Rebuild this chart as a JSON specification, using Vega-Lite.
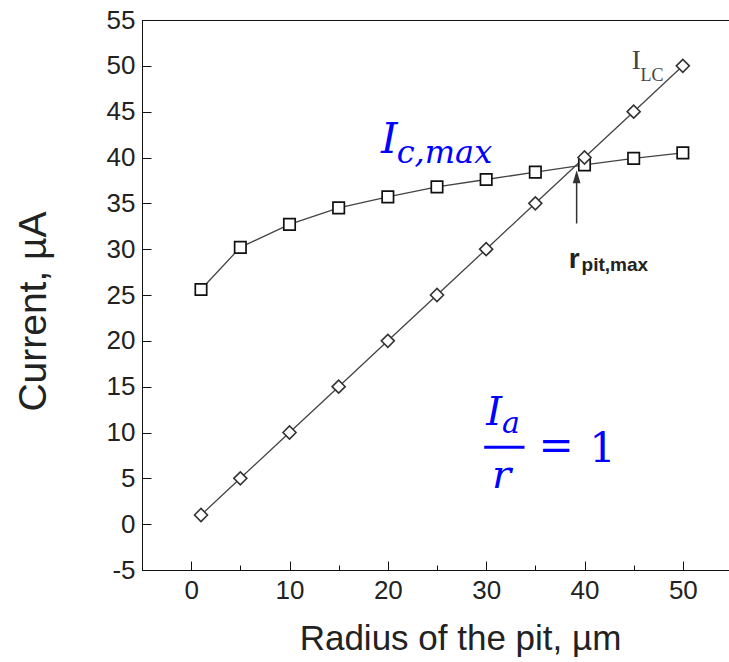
{
  "$schema": "https://vega.github.io/schema/vega-lite/v6.json",
  "width": 590,
  "height": 550,
  "autosize": "none",
  "padding": {"left": 142, "top": 20, "right": 0, "bottom": 92},
  "background": "white",
  "config": {
    "view": {"stroke": "#111", "strokeWidth": 1},
    "font": "Liberation Sans"
  },
  "datasets": {
    "series": [
      {"x": 1, "y": 1, "s": "ILC"},
      {"x": 5, "y": 5, "s": "ILC"},
      {"x": 10, "y": 10, "s": "ILC"},
      {"x": 15, "y": 15, "s": "ILC"},
      {"x": 20, "y": 20, "s": "ILC"},
      {"x": 25, "y": 25, "s": "ILC"},
      {"x": 30, "y": 30, "s": "ILC"},
      {"x": 35, "y": 35, "s": "ILC"},
      {"x": 40, "y": 40, "s": "ILC"},
      {"x": 45, "y": 45, "s": "ILC"},
      {"x": 50, "y": 50, "s": "ILC"},
      {"x": 1, "y": 25.6, "s": "Ic"},
      {"x": 5, "y": 30.2, "s": "Ic"},
      {"x": 10, "y": 32.7, "s": "Ic"},
      {"x": 15, "y": 34.5, "s": "Ic"},
      {"x": 20, "y": 35.7, "s": "Ic"},
      {"x": 25, "y": 36.8, "s": "Ic"},
      {"x": 30, "y": 37.6, "s": "Ic"},
      {"x": 35, "y": 38.4, "s": "Ic"},
      {"x": 40, "y": 39.2, "s": "Ic"},
      {"x": 45, "y": 39.9, "s": "Ic"},
      {"x": 50, "y": 40.5, "s": "Ic"}
    ],
    "notes": [
      {"x": 44.8, "y": 49.7, "t": "I", "k": "lc_main"},
      {"x": 45.7, "y": 48.4, "t": "LC", "k": "lc_sub"},
      {"x": 19.3, "y": 40.5, "t": "I", "k": "blue_big"},
      {"x": 20.9, "y": 39.4, "t": "c,max", "k": "blue_sub"},
      {"x": 30.0, "y": 10.8, "t": "I", "k": "blue_main"},
      {"x": 31.6, "y": 9.9, "t": "a", "k": "blue_asub"},
      {"x": 30.6, "y": 3.9, "t": "r", "k": "blue_main"},
      {"x": 40.5, "y": 6.8, "t": "1", "k": "blue_up"},
      {"x": 37.1, "y": 8.4, "t": "=", "k": "blue_eq"},
      {"x": 38.4, "y": 28.0, "t": "r", "k": "rp_main"},
      {"x": 39.7, "y": 27.6, "t": "pit,max", "k": "rp_sub"}
    ]
  },
  "layer": [
    {
      "data": {"name": "series"},
      "mark": {"type": "line", "color": "#444", "strokeWidth": 1.3},
      "encoding": {
        "x": {
          "field": "x", "type": "quantitative",
          "scale": {"domain": [-5, 55], "nice": false, "zero": false},
          "axis": {
            "title": "Radius of the pit, µm",
            "values": [0, 5, 10, 15, 20, 25, 30, 35, 40, 45, 50],
            "labelExpr": "datum.value % 10 === 0 ? datum.label : ''",
            "grid": false,
            "domainColor": "#111",
            "tickColor": "#111",
            "tickSize": -9,
            "tickDash": {"condition": {"test": "datum.value % 10 !== 0", "value": [5, 30]}, "value": []},
            "labelFontSize": 26,
            "labelColor": "#222",
            "labelPadding": 16,
            "labelFlush": false,
            "labelOverlap": false,
            "titleFontSize": 35,
            "titleFontWeight": "normal",
            "titleColor": "#222",
            "titlePadding": 18,
            "titleX": 318,
            "titleAlign": "center"
          }
        },
        "y": {
          "field": "y", "type": "quantitative",
          "scale": {"domain": [-5, 55], "nice": false, "zero": false},
          "axis": {
            "title": "Current, µA",
            "values": [-5, -2.5, 0, 2.5, 5, 7.5, 10, 12.5, 15, 17.5, 20, 22.5, 25, 27.5, 30, 32.5, 35, 37.5, 40, 42.5, 45, 47.5, 50, 52.5, 55],
            "labelExpr": "datum.value % 5 === 0 ? (datum.value < 0 ? '-' : '') + abs(datum.value) : ''",
            "grid": false,
            "domainColor": "#111",
            "tickColor": "#111",
            "tickSize": -9,
            "tickDash": {"condition": {"test": "datum.value % 5 !== 0", "value": [5, 30]}, "value": []},
            "labelFontSize": 26,
            "labelColor": "#222",
            "labelPadding": 16,
            "labelFlush": false,
            "labelOverlap": false,
            "titleFontSize": 39,
            "titleFontWeight": "normal",
            "titleColor": "#222",
            "titlePadding": 53,
            "titleY": 291
          }
        },
        "detail": {"field": "s"}
      }
    },
    {
      "data": {"name": "series"},
      "transform": [{"filter": "datum.s === 'Ic'"}],
      "mark": {"type": "point", "shape": "square", "filled": true, "fill": "white", "stroke": "#111", "strokeWidth": 1.7, "size": 130, "opacity": 1},
      "encoding": {
        "x": {"field": "x", "type": "quantitative"},
        "y": {"field": "y", "type": "quantitative"}
      }
    },
    {
      "data": {"name": "series"},
      "transform": [{"filter": "datum.s === 'ILC'"}],
      "mark": {"type": "point", "shape": "diamond", "filled": true, "fill": "white", "stroke": "#333", "strokeWidth": 1.6, "size": 170, "opacity": 1},
      "encoding": {
        "x": {"field": "x", "type": "quantitative"},
        "y": {"field": "y", "type": "quantitative"}
      }
    },
    {
      "data": {"values": [{"x": 39.2, "y": 32.8, "y2": 37.9}]},
      "mark": {"type": "rule", "color": "#333", "strokeWidth": 1.5},
      "encoding": {
        "x": {"field": "x", "type": "quantitative"},
        "y": {"field": "y", "type": "quantitative"},
        "y2": {"field": "y2"}
      }
    },
    {
      "data": {"values": [{"x": 39.2, "y": 37.9}]},
      "mark": {"type": "point", "shape": "M0,-1L-0.6,1L0.6,1Z", "filled": true, "color": "#333", "size": 169, "opacity": 1},
      "encoding": {
        "x": {"field": "x", "type": "quantitative"},
        "y": {"field": "y", "type": "quantitative"}
      }
    },
    {
      "data": {"values": [{"x": 29.8, "x2": 33.9, "y": 8.4}]},
      "mark": {"type": "rule", "color": "#0000ff", "strokeWidth": 3},
      "encoding": {
        "x": {"field": "x", "type": "quantitative"},
        "x2": {"field": "x2"},
        "y": {"field": "y", "type": "quantitative"}
      }
    },
    {
      "data": {"name": "notes"},
      "transform": [{"filter": "datum.k === 'lc_main'"}],
      "mark": {"type": "text", "font": "Liberation Serif", "fontSize": 27, "color": "#444", "align": "left", "baseline": "alphabetic"},
      "encoding": {"x": {"field": "x", "type": "quantitative"}, "y": {"field": "y", "type": "quantitative"}, "text": {"field": "t"}}
    },
    {
      "data": {"name": "notes"},
      "transform": [{"filter": "datum.k === 'lc_sub'"}],
      "mark": {"type": "text", "font": "Liberation Serif", "fontSize": 18, "color": "#444", "align": "left", "baseline": "alphabetic"},
      "encoding": {"x": {"field": "x", "type": "quantitative"}, "y": {"field": "y", "type": "quantitative"}, "text": {"field": "t"}}
    },
    {
      "data": {"name": "notes"},
      "transform": [{"filter": "datum.k === 'blue_big'"}],
      "mark": {"type": "text", "font": "DejaVu Serif", "fontStyle": "italic", "fontSize": 42, "color": "#0000ff", "align": "left", "baseline": "alphabetic"},
      "encoding": {"x": {"field": "x", "type": "quantitative"}, "y": {"field": "y", "type": "quantitative"}, "text": {"field": "t"}}
    },
    {
      "data": {"name": "notes"},
      "transform": [{"filter": "datum.k === 'blue_sub'"}],
      "mark": {"type": "text", "font": "DejaVu Serif", "fontStyle": "italic", "fontSize": 32, "color": "#0000ff", "align": "left", "baseline": "alphabetic"},
      "encoding": {"x": {"field": "x", "type": "quantitative"}, "y": {"field": "y", "type": "quantitative"}, "text": {"field": "t"}}
    },
    {
      "data": {"name": "notes"},
      "transform": [{"filter": "datum.k === 'blue_main'"}],
      "mark": {"type": "text", "font": "DejaVu Serif", "fontStyle": "italic", "fontSize": 40, "color": "#0000ff", "align": "left", "baseline": "alphabetic"},
      "encoding": {"x": {"field": "x", "type": "quantitative"}, "y": {"field": "y", "type": "quantitative"}, "text": {"field": "t"}}
    },
    {
      "data": {"name": "notes"},
      "transform": [{"filter": "datum.k === 'blue_asub'"}],
      "mark": {"type": "text", "font": "DejaVu Serif", "fontStyle": "italic", "fontSize": 30, "color": "#0000ff", "align": "left", "baseline": "alphabetic"},
      "encoding": {"x": {"field": "x", "type": "quantitative"}, "y": {"field": "y", "type": "quantitative"}, "text": {"field": "t"}}
    },
    {
      "data": {"name": "notes"},
      "transform": [{"filter": "datum.k === 'blue_up'"}],
      "mark": {"type": "text", "font": "DejaVu Serif", "fontSize": 41, "color": "#0000ff", "align": "left", "baseline": "alphabetic"},
      "encoding": {"x": {"field": "x", "type": "quantitative"}, "y": {"field": "y", "type": "quantitative"}, "text": {"field": "t"}}
    },
    {
      "data": {"name": "notes"},
      "transform": [{"filter": "datum.k === 'blue_eq'"}],
      "mark": {"type": "text", "font": "DejaVu Serif", "fontSize": 42, "color": "#0000ff", "align": "center", "baseline": "middle"},
      "encoding": {"x": {"field": "x", "type": "quantitative"}, "y": {"field": "y", "type": "quantitative"}, "text": {"field": "t"}}
    },
    {
      "data": {"name": "notes"},
      "transform": [{"filter": "datum.k === 'rp_main'"}],
      "mark": {"type": "text", "font": "Liberation Sans", "fontWeight": "bold", "fontSize": 28, "color": "#222", "align": "left", "baseline": "alphabetic"},
      "encoding": {"x": {"field": "x", "type": "quantitative"}, "y": {"field": "y", "type": "quantitative"}, "text": {"field": "t"}}
    },
    {
      "data": {"name": "notes"},
      "transform": [{"filter": "datum.k === 'rp_sub'"}],
      "mark": {"type": "text", "font": "Liberation Sans", "fontWeight": "bold", "fontSize": 19, "color": "#222", "align": "left", "baseline": "alphabetic"},
      "encoding": {"x": {"field": "x", "type": "quantitative"}, "y": {"field": "y", "type": "quantitative"}, "text": {"field": "t"}}
    }
  ]
}
